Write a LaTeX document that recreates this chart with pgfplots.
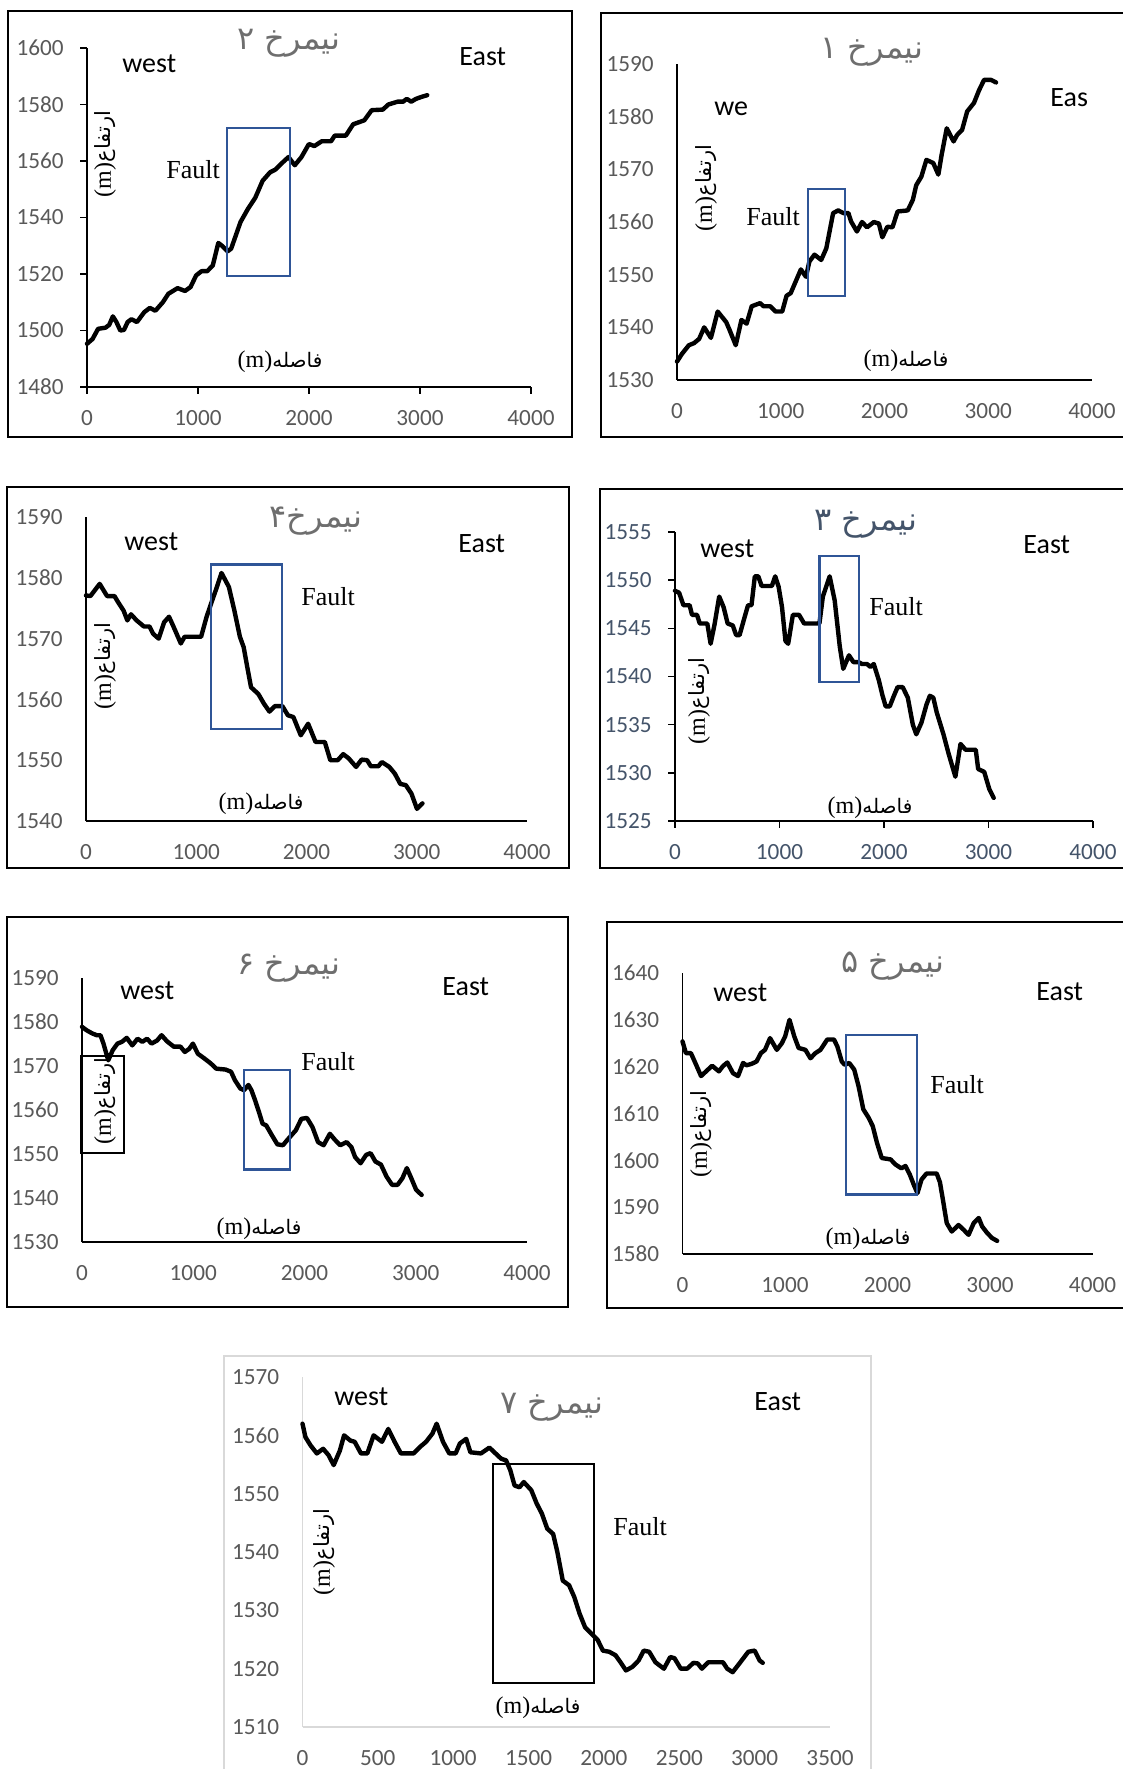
\documentclass[border=0pt]{standalone}
\usepackage{pgfplots}
\pgfplotsset{compat=1.18}
\usepackage{fontspec}
\setmainfont{Carlito}
\newfontfamily\serif{Liberation Serif}
\newfontfamily\arabicfont[Script=Arabic]{DejaVu Sans}
\TeXXeTstate=1
\definecolor{tickgray}{HTML}{595959}
\definecolor{titlegray}{HTML}{6E6E6E}
\definecolor{slate}{HTML}{44546A}
\definecolor{faultblue}{HTML}{2F5597}
\definecolor{lightgray2}{HTML}{D9D9D9}
\newcommand{\W}{\fontsize{14}{16}\selectfont}
\newcommand{\F}{\serif\fontsize{13}{15}\selectfont}
\newcommand{\ttl}[1]{{\arabicfont\fontsize{16}{19}\selectfont\beginR #1\endR}}
\newcommand{\ylab}{{\serif\fontsize{12}{14}\selectfont(m)}{\arabicfont\fontsize{10.5}{12}\selectfont ارتفاع}}
\newcommand{\xlab}{{\serif\fontsize{12}{14}\selectfont(m)}{\arabicfont\fontsize{10}{12}\selectfont فاصله}}
\pgfplotsset{
  prof/.style={
    scale only axis, anchor=south west,
    axis lines*=left, clip=false,
    xmin=0, xmax=4000, xtick={0,1000,2000,3000,4000},
    major tick length=0pt,
    axis line style={black, line width=0.8pt},
    tick label style={font=\fontsize{11.6}{13}\selectfont, color=tickgray},
    /pgf/number format/assume math mode=true,
    /pgf/number format/set thousands separator={},
    yticklabel style={anchor=east, inner sep=0pt, xshift=-11.5pt},
    xticklabel style={anchor=base, inner sep=0pt, yshift=-19pt},
    cycle list={{black, line width=2.2pt, line join=round, line cap=round, mark=none}},
  },
  withticks/.style={tick align=outside, major tick length=3.4pt, tick style={black, line width=0.8pt},
    yticklabel style={xshift=3.4pt}, xticklabel style={yshift=3.4pt}},
  curve/.style={black, line width=2.2pt, line join=round, line cap=round, mark=none},
}
\begin{document}
\begin{tikzpicture}
\path[use as bounding box] (0,0) rectangle (561.5pt,-884.5pt);
\clip (0,0) rectangle (561.5pt,-884.5pt);
\fill[white] (0,0) rectangle (561.5pt,-884.5pt);

% ---------- Panel 2 (top left)
\begin{axis}[prof, withticks, at={(43.5pt,-193.5pt)}, width=222pt, height=169.5pt,
  ymin=1480, ymax=1600, ytick={1480,1500,...,1600}]
\addplot[curve] coordinates {(0,1495.3)(50,1497)(100,1500.6)(167,1501)(200,1502)(233,1505)(265,1503)(300,1500)(333,1500.2)(366,1503)(400,1504)(450,1503)(516,1506.5)(566,1508)(616,1507)(683,1510)(733,1513)(816,1515)(883,1514)(933,1515.4)(983,1519.5)(1032,1521)(1083,1521)(1133,1523)(1183,1531)(1216,1530)(1266,1528)(1299,1529)(1383,1538.4)(1449,1543)(1516,1547)(1582,1553)(1649,1556)(1699,1557)(1749,1559)(1815,1561.4)(1872,1558.5)(1932,1561.4)(1999,1566)(2049,1565.3)(2115,1567)(2199,1567)(2232,1569)(2332,1569)(2398,1573)(2498,1574.4)(2565,1578)(2665,1578.2)(2715,1580)(2798,1581)(2848,1581)(2881,1582)(2921,1581)(2964,1582)(3014,1582.7)(3065,1583.3)};
\draw[faultblue, line width=1.1pt] (axis cs:1260,1519.3) rectangle (axis cs:1832,1571.8);
\end{axis}

% ---------- Panel 1 (top right)
\begin{axis}[prof, at={(338.5pt,-190pt)}, width=207.5pt, height=158pt,
  ymin=1530, ymax=1590, ytick={1530,1540,...,1590}]
\addplot[curve] coordinates {(0,1533.5)(49,1535)(114,1536.6)(164,1537)(213,1537.8)(262,1540)(327,1538)(392,1543)(474,1541)(507,1539.5)(566,1536.6)(621,1541.4)(671,1540.7)(720,1544)(801,1544.6)(834,1544)(899,1544)(949,1543)(1014,1543)(1056,1546)(1096,1546.5)(1194,1551)(1243,1549.6)(1276,1552.5)(1325,1553.8)(1390,1552.8)(1439,1555)(1505,1561.7)(1554,1562.2)(1603,1561.7)(1652,1561.7)(1678,1560.1)(1734,1558.2)(1783,1560)(1832,1559)(1897,1560)(1946,1559.7)(1979,1557.1)(2028,1559.1)(2077,1559)(2126,1562)(2224,1562.2)(2273,1564.2)(2306,1567)(2355,1568.6)(2404,1571.8)(2470,1571.2)(2519,1569)(2551,1572.8)(2600,1577.8)(2666,1575.3)(2699,1576.5)(2748,1577.5)(2797,1581)(2862,1582.6)(2911,1585)(2960,1587)(3026,1587)(3075,1586.5)};
\draw[faultblue, line width=1.1pt] (axis cs:1259,1546) rectangle (axis cs:1619,1566.3);
\end{axis}

% ---------- Panel 4 (middle left)
\begin{axis}[prof, at={(43pt,-410.5pt)}, width=220.5pt, height=152pt,
  ymin=1540, ymax=1590, ytick={1540,1550,...,1590}]
\addplot[curve] coordinates {(0,1577.1)(40,1577)(124,1579)(191,1577)(258,1577)(291,1576)(341,1574.6)(375,1573)(408,1574)(459,1573)(525,1572)(576,1572)(609,1570.8)(659,1570)(709,1572.7)(753,1573.6)(793,1572)(860,1569.2)(894,1570.3)(1044,1570.3)(1094,1573.6)(1145,1576.3)(1178,1578)(1229,1580.8)(1296,1578.5)(1346,1574.6)(1396,1570.3)(1430,1568.6)(1463,1565.3)(1497,1562)(1563,1560.9)(1614,1559.3)(1664,1558)(1714,1558.9)(1781,1558.9)(1831,1557.4)(1881,1557.1)(1948,1554.1)(2015,1556)(2082,1553)(2166,1553)(2216,1550)(2283,1550)(2333,1551)(2383,1550.3)(2450,1548.9)(2500,1550.1)(2550,1550)(2584,1549)(2651,1549)(2684,1549.7)(2751,1548.9)(2801,1547.8)(2851,1546.1)(2901,1545.9)(2952,1544.5)(3002,1542)(3052,1542.9)};
\draw[faultblue, line width=1.1pt] (axis cs:1135,1555.2) rectangle (axis cs:1781,1582.2);
\end{axis}

% ---------- Panel 3 (middle right)
\begin{axis}[prof, withticks, at={(337.5pt,-410.5pt)}, width=209pt, height=144.5pt,
  ymin=1525, ymax=1555, ytick={1525,1530,...,1555},
  tick label style={color=slate}]
\addplot[curve] coordinates {(0,1548.9)(39,1548.7)(81,1547.4)(140,1547.4)(163,1546.4)(211,1546.4)(237,1545.5)(309,1545.5)(341,1543.4)(380,1545.5)(423,1548.3)(465,1547.2)(504,1545.5)(553,1545.3)(585,1544.3)(618,1544.3)(667,1546.2)(699,1547.4)(732,1547.4)(764,1550.4)(797,1550.4)(829,1549.4)(927,1549.4)(959,1550.4)(992,1549.3)(1024,1547.2)(1057,1543.7)(1083,1543.4)(1128,1546.4)(1187,1546.4)(1236,1545.5)(1382,1545.5)(1415,1548.3)(1480,1550.4)(1528,1547.9)(1577,1543.1)(1610,1540.8)(1665,1542.2)(1707,1541.5)(1756,1541.5)(1789,1541.3)(1837,1541.3)(1870,1541)(1902,1541.3)(1951,1539.6)(1984,1538.1)(2016,1536.9)(2055,1536.9)(2091,1537.9)(2130,1538.9)(2179,1538.9)(2228,1537.8)(2276,1535)(2309,1534)(2358,1535.2)(2407,1537.1)(2439,1538)(2472,1537.8)(2504,1536.3)(2569,1534)(2618,1532)(2683,1529.6)(2732,1533)(2780,1532.4)(2878,1532.4)(2901,1530.4)(2959,1530.1)(3008,1528.3)(3050,1527.4)};
\draw[faultblue, line width=1.1pt] (axis cs:1382,1539.4) rectangle (axis cs:1763,1552.5);
\end{axis}

% ---------- Panel 6 (bottom left)
\begin{axis}[prof, at={(41pt,-621pt)}, width=222.5pt, height=132pt,
  ymin=1530, ymax=1590, ytick={1530,1540,...,1590}]
\addplot[curve] coordinates {(0,1578.9)(43,1578.1)(93,1577.4)(133,1577)(166,1577)(193,1575.1)(236,1571.3)(276,1573.6)(319,1575.1)(359,1575.5)(402,1576.4)(452,1574.7)(499,1576.2)(542,1575.5)(585,1576.2)(625,1575.1)(675,1575.8)(715,1577)(765,1575.6)(825,1574.4)(885,1574.4)(924,1573.2)(964,1573.9)(997,1575.1)(1041,1572.8)(1101,1571.7)(1157,1570.6)(1207,1569.4)(1290,1569.2)(1340,1568.7)(1374,1566.8)(1423,1564.9)(1456,1564.5)(1496,1565.7)(1523,1564.5)(1556,1562.2)(1590,1559.6)(1623,1556.9)(1656,1556.5)(1706,1554.3)(1756,1552.2)(1806,1552)(1856,1553.5)(1922,1555.4)(1972,1558)(2022,1558.2)(2072,1556.1)(2122,1552.7)(2172,1552)(2228,1554.6)(2271,1553.3)(2321,1552)(2378,1552.7)(2421,1551.6)(2455,1549.3)(2504,1547.9)(2554,1549.8)(2594,1550.2)(2637,1548.3)(2687,1547.6)(2737,1544.9)(2787,1543)(2837,1543)(2880,1544.5)(2920,1546.8)(2960,1544.5)(3003,1541.9)(3053,1540.7)};
\draw[faultblue, line width=1.1pt] (axis cs:1456,1546.5) rectangle (axis cs:1872,1569.1);
\draw[black, line width=1pt] (axis cs:-13,1550.3) rectangle (axis cs:376,1572.3);
\end{axis}

% ---------- Panel 5 (bottom right)
\begin{axis}[prof, at={(341.25pt,-627pt)}, width=205pt, height=140.5pt,
  ymin=1580, ymax=1640, ytick={1580,1590,...,1640}]
\addplot[curve] coordinates {(0,1625.4)(33,1622.9)(82,1622.9)(125,1620.8)(181,1618)(230,1619)(289,1620.2)(355,1619)(394,1620.1)(437,1620.9)(493,1618.6)(542,1618)(591,1620.8)(624,1620.3)(673,1620.6)(722,1621.1)(765,1622.9)(805,1623.6)(854,1626.1)(920,1623.6)(969,1625)(1002,1626.5)(1044,1630)(1090,1626.5)(1133,1624)(1199,1623.6)(1248,1621.8)(1297,1622.9)(1346,1623.6)(1412,1625.8)(1478,1625.8)(1511,1624.3)(1554,1621.1)(1583,1620.4)(1626,1620.8)(1675,1619.4)(1718,1615.8)(1764,1610.9)(1816,1609.1)(1856,1607.3)(1898,1603.7)(1944,1600.5)(2030,1600.2)(2079,1599.1)(2135,1598.3)(2175,1598.8)(2217,1597)(2260,1594.6)(2292,1593)(2332,1595.9)(2381,1597.2)(2480,1597.2)(2512,1595.3)(2545,1591)(2578,1586.6)(2627,1584.8)(2693,1586.2)(2742,1585.2)(2791,1584.1)(2841,1586.6)(2890,1587.7)(2923,1585.9)(2972,1584.5)(3021,1583.4)(3070,1582.8)};
\draw[faultblue, line width=1.1pt] (axis cs:1593,1592.7) rectangle (axis cs:2289,1626.8);
\end{axis}

% ---------- Panel 7 (bottom centre)
\begin{axis}[prof, at={(151.25pt,-863.5pt)}, width=263.75pt, height=175pt,
  xmin=0, xmax=3500, xtick={0,500,...,3500},
  ymin=1510, ymax=1570, ytick={1510,1520,...,1570},
  axis line style={lightgray2, line width=0.8pt}]
\addplot[curve] coordinates {(0,1562)(19.5,1559.7)(53,1558.3)(95,1556.9)(137,1557.7)(173,1556.6)(207,1554.9)(248,1557.4)(276,1560)(318,1559.1)(346,1558.9)(388,1556.9)(430,1556.9)(472,1560)(527,1558.9)(569,1561.1)(611,1558.9)(653,1556.9)(737,1556.9)(779,1558)(820,1558.9)(862,1560.3)(890,1562)(932,1558.9)(974,1556.9)(1016,1556.9)(1044,1558.6)(1086,1559.4)(1114,1557.1)(1184,1556.9)(1240,1557.9)(1281,1556.9)(1318,1556)(1351,1555.7)(1379,1554)(1407,1551.4)(1440,1551.1)(1468,1552)(1518,1550.6)(1554,1548.3)(1588,1546.6)(1624,1544)(1663,1543.1)(1691,1540)(1727,1535.1)(1769,1534.3)(1803,1532.3)(1839,1529.4)(1875,1527.1)(1917,1526)(1959,1524.9)(1993,1523.1)(2035,1522.9)(2077,1522.3)(2110,1521.1)(2146,1519.7)(2188,1520.3)(2230,1521.4)(2264,1523.1)(2300,1522.9)(2342,1521.1)(2398,1520)(2440,1522)(2468,1521.8)(2510,1520)(2552,1520)(2594,1521)(2622,1520.9)(2650,1520)(2692,1521.1)(2790,1521.1)(2818,1520)(2854,1519.4)(2902,1521)(2958,1522.9)(3000,1523.1)(3033,1521.4)(3054,1521)};
\draw[black, line width=1pt] (axis cs:1261,1517.5) rectangle (axis cs:1931,1555.1);
\end{axis}

% ---------- frames and texts (pixel units)
\begin{scope}[x=0.5pt,y=-0.5pt]
\draw[line width=1pt] (8,11) rectangle (572,437);
\draw[line width=1pt] (601,13) rectangle (1140,437);
\draw[line width=1pt] (7,487) rectangle (569,868);
\draw[line width=1pt] (600,489) rectangle (1140,868);
\draw[line width=1pt] (7,917) rectangle (568,1307);
\draw[line width=1pt] (607,922) rectangle (1140,1308);
\draw[lightgray2, line width=1pt] (224,1356) rectangle (871,1790);

% panel 2
\node[text=titlegray] at (289,43) {\ttl{نیمرخ ۲}};
\node[anchor=base west, inner sep=0pt, font=\W] at (122,72) {west};
\node[anchor=base west, inner sep=0pt, font=\W] at (459,65) {East};
\node[anchor=base west, inner sep=0pt, font=\F] at (166,178) {Fault};
\node[rotate=90, inner sep=0pt] at (105,154) {\ylab};
\node[inner sep=0pt] at (280,362) {\xlab};
% panel 1
\node[text=titlegray] at (872,52) {\ttl{نیمرخ ۱}};
\node[anchor=base west, inner sep=0pt, font=\W] at (714,115) {we};
\node[anchor=base west, inner sep=0pt, font=\W] at (1050,106) {Eas};
\node[anchor=base west, inner sep=0pt, font=\F] at (746,225) {Fault};
\node[rotate=90, inner sep=0pt] at (706,188) {\ylab};
\node[inner sep=0pt] at (906,361) {\xlab};
% panel 4
\node[text=titlegray] at (316,521) {\ttl{نیمرخ۴}};
\node[anchor=base west, inner sep=0pt, font=\W] at (124,550) {west};
\node[anchor=base west, inner sep=0pt, font=\W] at (458,552) {East};
\node[anchor=base west, inner sep=0pt, font=\F] at (301,605) {Fault};
\node[rotate=90, inner sep=0pt] at (105,666) {\ylab};
\node[inner sep=0pt] at (261,804) {\xlab};
% panel 3
\node[text=slate] at (866,524) {\ttl{نیمرخ ۳}};
\node[anchor=base west, inner sep=0pt, font=\W] at (700,557) {west};
\node[anchor=base west, inner sep=0pt, font=\W] at (1023,553) {East};
\node[anchor=base west, inner sep=0pt, font=\F] at (869,615) {Fault};
\node[rotate=90, inner sep=0pt] at (699,701) {\ylab};
\node[inner sep=0pt] at (870,808) {\xlab};
% panel 6
\node[text=titlegray] at (289,968) {\ttl{نیمرخ ۶}};
\node[anchor=base west, inner sep=0pt, font=\W] at (120,999) {west};
\node[anchor=base west, inner sep=0pt, font=\W] at (442,995) {East};
\node[anchor=base west, inner sep=0pt, font=\F] at (301,1070) {Fault};
\node[rotate=90, inner sep=0pt] at (105,1101) {\ylab};
\node[inner sep=0pt] at (259,1229) {\xlab};
% panel 5
\node[text=titlegray] at (893,966) {\ttl{نیمرخ ۵}};
\node[anchor=base west, inner sep=0pt, font=\W] at (713,1001) {west};
\node[anchor=base west, inner sep=0pt, font=\W] at (1036,1000) {East};
\node[anchor=base west, inner sep=0pt, font=\F] at (930,1093) {Fault};
\node[rotate=90, inner sep=0pt] at (701,1134) {\ylab};
\node[inner sep=0pt] at (868,1239) {\xlab};
% panel 7
\node[text=titlegray] at (552,1407) {\ttl{نیمرخ ۷}};
\node[anchor=base west, inner sep=0pt, font=\W] at (334,1405) {west};
\node[anchor=base west, inner sep=0pt, font=\W] at (754,1410) {East};
\node[anchor=base west, inner sep=0pt, font=\F] at (613,1535) {Fault};
\node[rotate=90, inner sep=0pt] at (324,1552) {\ylab};
\node[inner sep=0pt] at (538,1708) {\xlab};
\end{scope}
\end{tikzpicture}
\end{document}
